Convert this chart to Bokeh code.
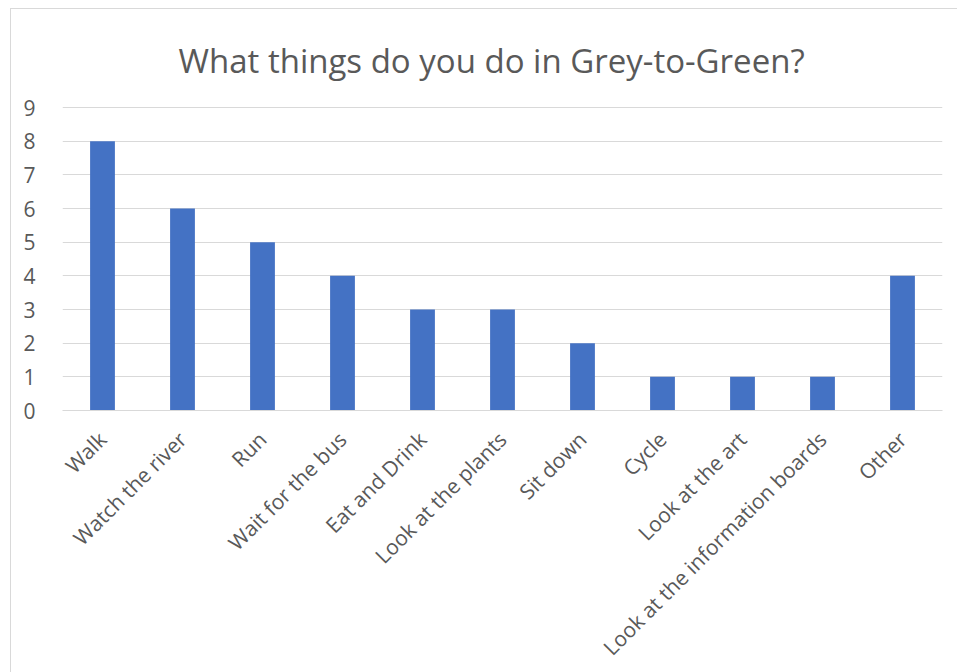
import math
from bokeh.plotting import figure
from bokeh.models import ColumnDataSource, FactorRange, Range1d, FixedTicker
from bokeh.embed import file_html
from bokeh.resources import INLINE

categories = ["Walk", "Watch the river", "Run", "Wait for the bus", "Eat and Drink",
              "Look at the plants", "Sit down", "Cycle", "Look at the art",
              "Look at the information boards", "Other"]
counts = [8, 6, 5, 4, 3, 3, 2, 1, 1, 1, 4]
y_ticks = [0, 1, 2, 3, 4, 5, 6, 7, 8, 9]

TXT = "#595959"
GRID = "#d9d9d9"
FONT = "Open Sans"

src = ColumnDataSource(data=dict(cat=categories, n=counts))

p = figure(width=947, height=664, output_backend="svg", toolbar_location=None,
           x_range=FactorRange(*categories, range_padding=0),
           y_range=Range1d(0, 9.03),
           min_border_left=51, min_border_right=16, min_border_top=97, min_border_bottom=262,
           title="What things do you do in Grey-to-Green?")
p.margin = (8, 0, 0, 10)
p.styles = {"border-left": "1px solid #d9d9d9", "border-top": "1px solid #d9d9d9"}

p.vbar(x="cat", top="n", width=0.31, source=src, fill_color="#4472C4", line_color=None)

p.title.align = "left"
p.title.offset = 116
p.title.vertical_align = "top"
p.title.text_font = FONT
p.title.text_font_size = "33px"
p.title.text_font_style = "normal"
p.title.text_color = TXT
p.title.standoff = 44

p.outline_line_color = None
p.background_fill_color = "white"
p.border_fill_color = "white"

p.xgrid.grid_line_color = None
p.ygrid.grid_line_color = GRID
p.ygrid.grid_line_width = 1
p.yaxis.ticker = FixedTicker(ticks=y_ticks)

p.yaxis.axis_line_color = None
p.yaxis.major_tick_line_color = None
p.yaxis.minor_tick_line_color = None
p.yaxis.major_label_text_font = FONT
p.yaxis.major_label_text_font_size = "21px"
p.yaxis.major_label_text_color = TXT
p.yaxis.major_label_standoff = 21

p.xaxis.axis_line_color = GRID
p.xaxis.major_tick_line_color = None
p.xaxis.minor_tick_line_color = None
p.xaxis.major_label_text_font = FONT
p.xaxis.major_label_text_font_size = "21px"
p.xaxis.major_label_text_color = TXT
p.xaxis.major_label_orientation = math.pi / 4
p.xaxis.major_label_standoff = 19

open("out.html", "w").write(file_html(p, INLINE))
